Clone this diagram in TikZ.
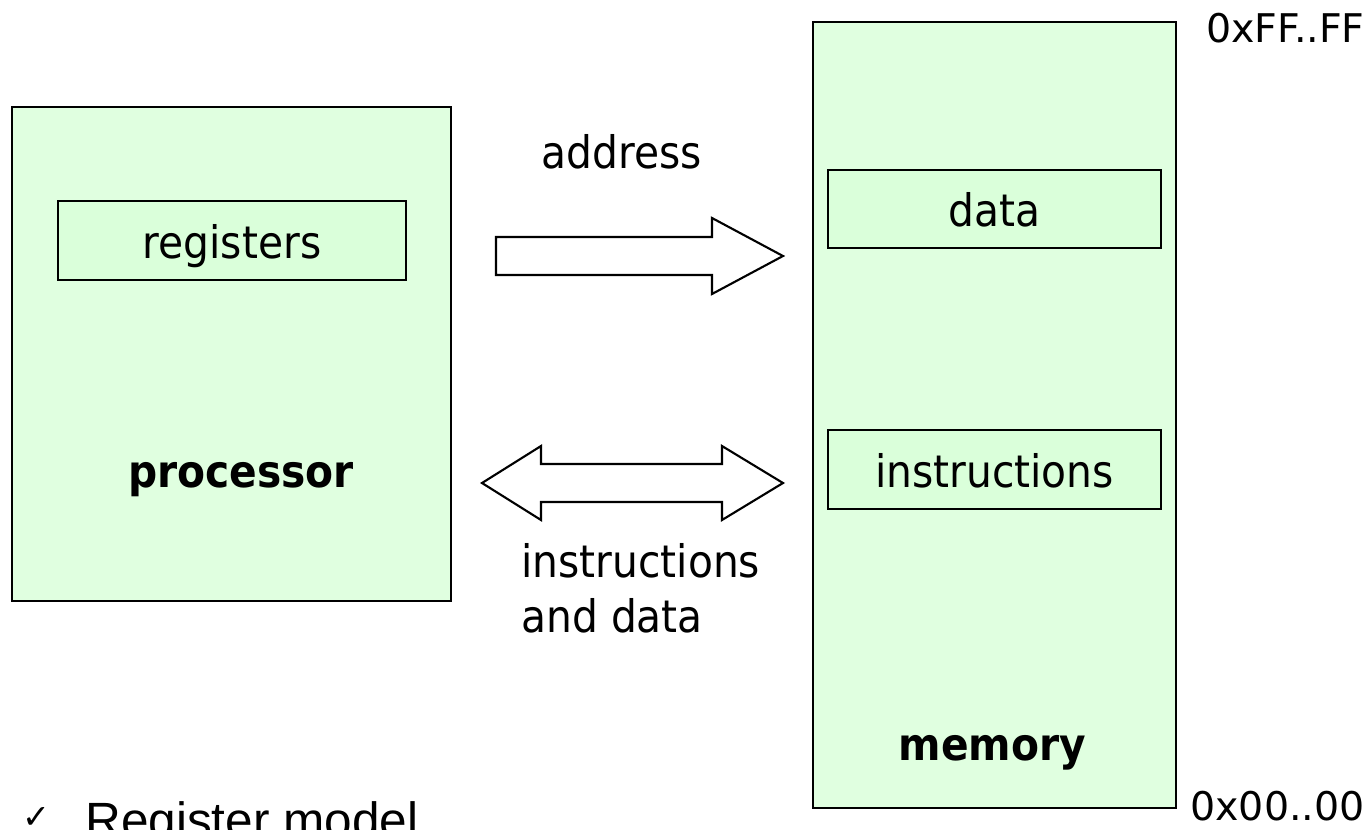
\documentclass[tikz,border=0pt]{standalone}
\usepackage{fontspec}
\setmainfont[FakeStretch=0.91]{DejaVu Sans}
\newfontfamily\hexfont{DejaVu Sans}
\newfontfamily\pointfont{Liberation Sans}
\usetikzlibrary{positioning}

\definecolor{unitgreen}{RGB}{224,255,224}
\definecolor{partgreen}{RGB}{218,255,218}

\tikzset{
  unit/.style={draw,line width=1.2pt,fill=unitgreen,shape=rectangle,inner sep=0pt},
  part/.style={draw,line width=1.1pt,fill=partgreen,shape=rectangle,inner sep=0pt,
    minimum width=6.66cm,minimum height=1.57cm,text height=0.7cm,text depth=0cm},
  bus/.style={draw,line width=1.2pt,fill=white,line join=miter},
  big/.style={font=\fontsize{25.5}{31.3}\selectfont},
  hex/.style={font=\hexfont\fontsize{22.5}{26}\selectfont,inner sep=0pt}
}

\begin{document}
\begin{tikzpicture}[x=0.02cm,y=-0.02cm,big]
\useasboundingbox (0,0) rectangle (1372,829);
\clip (0,0) rectangle (1372,829);

% processor side
\path (231.5,354) node(cpu)[unit,minimum width=8.78cm,minimum height=9.88cm] {};
\path (232,240.5) node(regs)[part,minimum width=6.96cm,minimum height=1.58cm] {registers};
\path (241,487) node(cpulabel)[anchor=base] {\bfseries processor};

% memory side
\path (994.5,415) node(mem)[unit,minimum width=7.26cm,minimum height=15.72cm] {};
\path (994.5,209) node(data)[part] {data};
\path (994.5,469.5) node(instr)[part] {instructions};
\path (992.5,760) node(memlabel)[anchor=base] {\bfseries memory};
\path (1365,42) node(top)[hex,anchor=base east] {0xFF..FF};
\path (1365,820) node(bottom)[hex,anchor=base east] {0x00..00};

% buses
\draw[bus] (496,237) -- (712,237) -- (712,218) -- (783,256) -- (712,294)
  -- (712,275) -- (496,275) -- cycle;
\draw[bus] (482,483) -- (541,446) -- (541,464) -- (722,464) -- (722,446)
  -- (783,483) -- (722,520) -- (722,502) -- (541,502) -- (541,520) -- cycle;
\path (622,168) node(addr)[anchor=base] {address};
\path (521,632) node(idata)[anchor=base west,align=left,inner sep=0pt] {instructions\\and data};

% bullet, runs off the bottom edge
\path (22,828) node(tick)[anchor=base west,inner sep=0pt,font=\hexfont\fontsize{19}{22}\selectfont] {✓};
\path (85,837) node(point)[anchor=base west,inner sep=0pt,font=\pointfont\fontsize{28.2}{34}\selectfont] {Register model};
\end{tikzpicture}
\end{document}
